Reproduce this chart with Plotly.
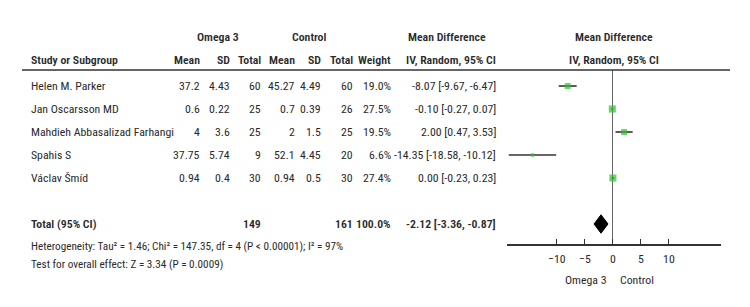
import plotly.graph_objects as go

# ---- data ----
studies = ["Helen M. Parker", "Jan Oscarsson MD", "Mahdieh Abbasalizad Farhangi", "Spahis S", "Václav Šmíd"]
om_mean = [37.2, 0.6, 4, 37.75, 0.94]
om_sd = [4.43, 0.22, 3.6, 5.74, 0.4]
om_n = [60, 25, 25, 9, 30]
ct_mean = [45.27, 0.7, 2, 52.1, 0.94]
ct_sd = [4.49, 0.39, 1.5, 4.45, 0.5]
ct_n = [60, 26, 25, 20, 30]
weight = [19.0, 27.5, 19.5, 6.6, 27.4]
md = [-8.07, -0.10, 2.00, -14.35, 0.00]
ci_lo = [-9.67, -0.27, 0.47, -18.58, -0.23]
ci_hi = [-6.47, 0.07, 3.53, -10.12, 0.23]
total_om_n = 149
total_ct_n = 161
total_weight = 100.0
total_md = -2.12
total_lo = -3.36
total_hi = -0.87
tick_vals = [-10, -5, 0, 5, 10]
heterogeneity = "Heterogeneity: Tau² = 1.46; Chi² = 147.35, df = 4 (P < 0.00001); I² = 97%"
overall = "Test for overall effect: Z = 3.34 (P = 0.0009)"

FONT = "Roboto Condensed, DejaVu Sans Condensed, sans-serif"
TXT = "#2a2a2a"
W, H = 750, 307
OFF = 8  # page body margin
PX = lambda px: (px - OFF) / W
PY = lambda py: 1 - (py - OFF) / H
row_y = lambda i: 86 + 23 * i  # pixel rows in the reference
TOTAL_ROW = 6
FS = 11.8

fig = go.Figure()

# forest: CIs + squares
fig.add_trace(go.Scatter(
    x=md, y=list(range(len(md))), mode="markers",
    marker=dict(symbol="square", color="#2fbf2f",
                size=[w ** 0.5 * 1.35 for w in weight], line=dict(width=0)),
    error_x=dict(type="data", symmetric=False,
                 array=[h - m for h, m in zip(ci_hi, md)],
                 arrayminus=[m - l for m, l in zip(md, ci_lo)],
                 width=0, thickness=1.6, color="#333"),
    hoverinfo="skip", showlegend=False))

# diamond
dh = 0.4
fig.add_trace(go.Scatter(
    x=[total_lo, total_md, total_hi, total_md, total_lo],
    y=[TOTAL_ROW, TOTAL_ROW - dh, TOTAL_ROW, TOTAL_ROW + dh, TOTAL_ROW],
    mode="lines", fill="toself", fillcolor="black", line=dict(color="black", width=1),
    hoverinfo="skip", showlegend=False))

ann = []
def txt(s, px, py, anchor="left", bold=False, size=FS):
    ann.append(dict(text=s, x=PX(px), y=PY(py),
                    xref="paper", yref="paper", xanchor=anchor, yanchor="middle",
                    showarrow=False,
                    font=dict(family=FONT, size=size, color=TXT, weight=600 if bold else 400)))

# headers
txt("Omega 3", 218, 37, "center", True)
txt("Control", 309, 37, "center", True)
txt("Mean Difference", 447, 37, "center", True)
txt("Mean Difference", 614, 37, "center", True)
txt("Study or Subgroup", 29, 60, "left", True)
cols = [202, 232, 263, 297, 323, 355, 393]
for lab, cx in zip(["Mean", "SD", "Total", "Mean", "SD", "Total", "Weight"], cols):
    txt(lab, cx, 60, "right", True)
txt("IV, Random, 95% CI", 498, 60, "right", True)
txt("IV, Random, 95% CI", 614, 60, "center", True)

# study rows
for i, s in enumerate(studies):
    y = row_y(i)
    txt(s, 29, y)
    vals = [f"{om_mean[i]:g}", f"{om_sd[i]:g}", f"{om_n[i]}", f"{ct_mean[i]:g}",
            f"{ct_sd[i]:g}", f"{ct_n[i]}", f"{weight[i]:.1f}%"]
    for v, cx in zip(vals, cols):
        txt(v, cx, y, "right")
    txt(f"{md[i]:.2f} [{ci_lo[i]:.2f}, {ci_hi[i]:.2f}]", 498, y, "right")

# total row
ty = row_y(TOTAL_ROW)
txt("Total (95% CI)", 29, ty, "left", True)
txt(f"{total_om_n}", cols[2], ty, "right", True)
txt(f"{total_ct_n}", cols[5], ty, "right", True)
txt(f"{total_weight:.1f}%", cols[6], ty, "right", True)
txt(f"{total_md:.2f} [{total_lo:.2f}, {total_hi:.2f}]", 498, ty, "right", True)
txt(heterogeneity, 29, 246, "left", size=11.2)
txt(overall, 29, 264, "left", size=11.2)

# favours labels
txt("Omega 3", 609, 280, "right")
txt("Control", 618, 280, "left")

fig.update_layout(
    width=W, height=H, margin=dict(l=0, r=0, t=0, b=0),
    paper_bgcolor="white", plot_bgcolor="white",
    annotations=ann,
    shapes=[dict(type="line", xref="paper", yref="paper", x0=PX(22), x1=PX(730),
                 y0=PY(70), y1=PY(70), line=dict(color="#333", width=1.6))],
    xaxis=dict(domain=[PX(507), PX(721)], range=[-18.9, 19.3], tickvals=tick_vals,
               ticks="inside", ticklen=5, tickcolor="#333", tickwidth=1,
               showline=True, linecolor="#333", linewidth=1.6,
               zeroline=True, zerolinecolor="#666", zerolinewidth=1,
               showgrid=False, tickfont=dict(family=FONT, size=FS, color=TXT),
               ticklabelstandoff=3, fixedrange=True),
    yaxis=dict(domain=[PY(244), PY(70)], range=[6.87, -0.696], visible=False,
               showgrid=False, zeroline=False, fixedrange=True),
)

fig.write_html("out.html")
